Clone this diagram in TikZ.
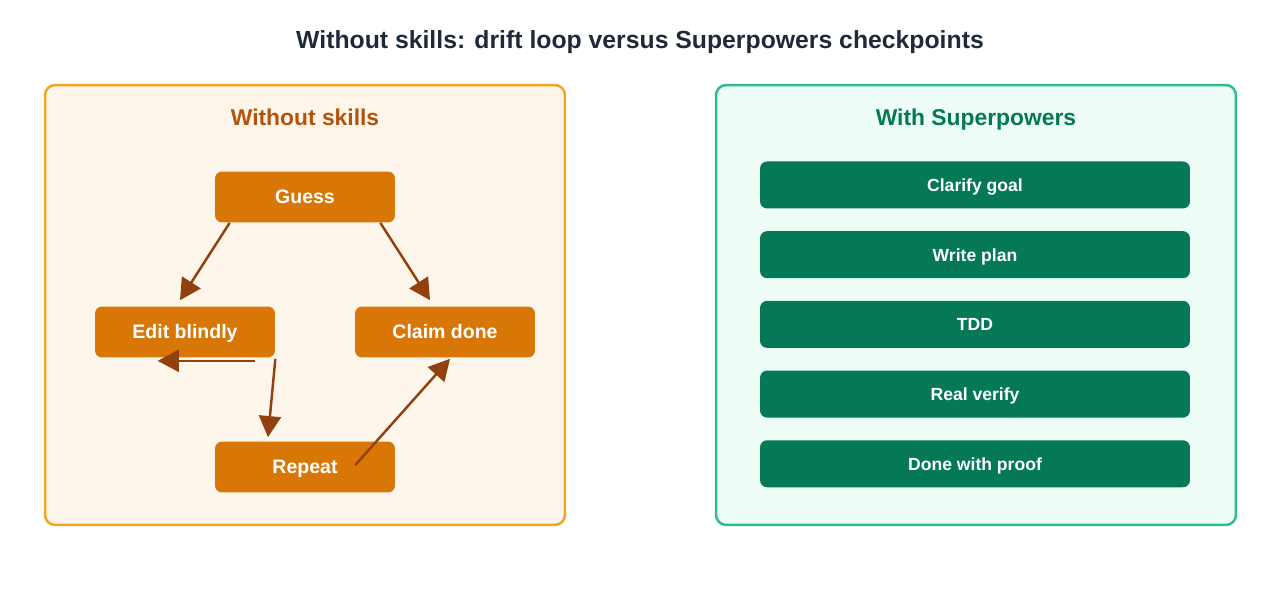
\documentclass[tikz,border=0pt]{standalone}
\usepackage{fontspec}
\setmainfont{Liberation Sans}
\usetikzlibrary{positioning, arrows.meta, calc}
\definecolor{ink}{HTML}{1F2937}
\definecolor{amberline}{HTML}{F2A51E}
\definecolor{amberfill}{HTML}{FEF6EA}
\definecolor{amberhead}{HTML}{B45309}
\definecolor{amberbox}{HTML}{D97706}
\definecolor{amberarrow}{HTML}{92400E}
\definecolor{greenline}{HTML}{2DBE8A}
\definecolor{greenfill}{HTML}{EDFDF6}
\definecolor{greenhead}{HTML}{047857}
\definecolor{greenbox}{HTML}{047857}
\tikzset{>={Triangle[length=12pt, width=12.5pt]},
  panel/.style = {draw, line width=1.4pt, rounded corners=0.2cm, minimum width=10.4cm, minimum height=8.8cm},
  heading/.style = {font=\bfseries\fontsize{13}{15}\selectfont, text height=0.72em, text depth=0pt},
  loopbox/.style = {fill=amberbox, text=white, font=\bfseries\fontsize{11.1}{13}\selectfont, text height=0.72em, text depth=0pt, rounded corners=0.14cm, minimum width=3.6cm, minimum height=1.02cm},
  stepbox/.style = {fill=greenbox, text=white, font=\bfseries\fontsize{10}{12}\selectfont, text height=0.72em, text depth=0pt, rounded corners=0.14cm, minimum width=8.6cm, minimum height=0.94cm},
  flow/.style = {->, draw=amberarrow, line width=1.4pt}}

\begin{document}
\begin{tikzpicture}[x=0.02cm, y=-0.02cm]
    \useasboundingbox (0,0) rectangle (1281,607);
    \node[font=\bfseries\fontsize{14.1}{17}\selectfont, text=ink, text height=0.72em, text depth=0pt] (title) at (640,42) {Without skills: drift loop versus Superpowers checkpoints};

    % left panel
    \node[panel, draw=amberline, fill=amberfill] (without) at (305,305) {};
    \node[heading, text=amberhead] (withouthead) at (305,119) {Without skills};
    \node[loopbox] (guess) at (305,197) {Guess};
    \node[loopbox] (edit) at (185,332) {Edit blindly};
    \node[loopbox] (claim) at (445,332) {Claim done};
    \node[loopbox] (repeat) at (305,467) {Repeat};
    \draw[flow] ($(guess.south west)+(15,0)$) -- ($(edit.north)+(-5,-6)$);
    \draw[flow] ($(guess.south east)+(-15,0)$) -- ($(claim.north)+(-15,-6)$);
    \draw[flow] ($(edit.south east)+(-20,3)$) -- ($(edit.south west)+(63,3)$);
    \draw[flow] ($(edit.south east)+(0,1)$) -- ($(repeat.north)+(-37,-4)$);
    \draw[flow] ($(repeat.east)+(-40,-2)$) -- ($(claim.south)+(5,1)$);

    % right panel
    \node[panel, draw=greenline, fill=greenfill] (with) at (976,305) {};
    \node[heading, text=greenhead] (withhead) at (976,119) {With Superpowers};
    \node[stepbox] (clarify) at (975,185) {Clarify goal};
    \node[stepbox, below=0.44cm of clarify] (plan) {Write plan};
    \node[stepbox, below=0.44cm of plan] (tdd) {TDD};
    \node[stepbox, below=0.44cm of tdd] (verify) {Real verify};
    \node[stepbox, below=0.44cm of verify] (proof) {Done with proof};
\end{tikzpicture}
\end{document}
